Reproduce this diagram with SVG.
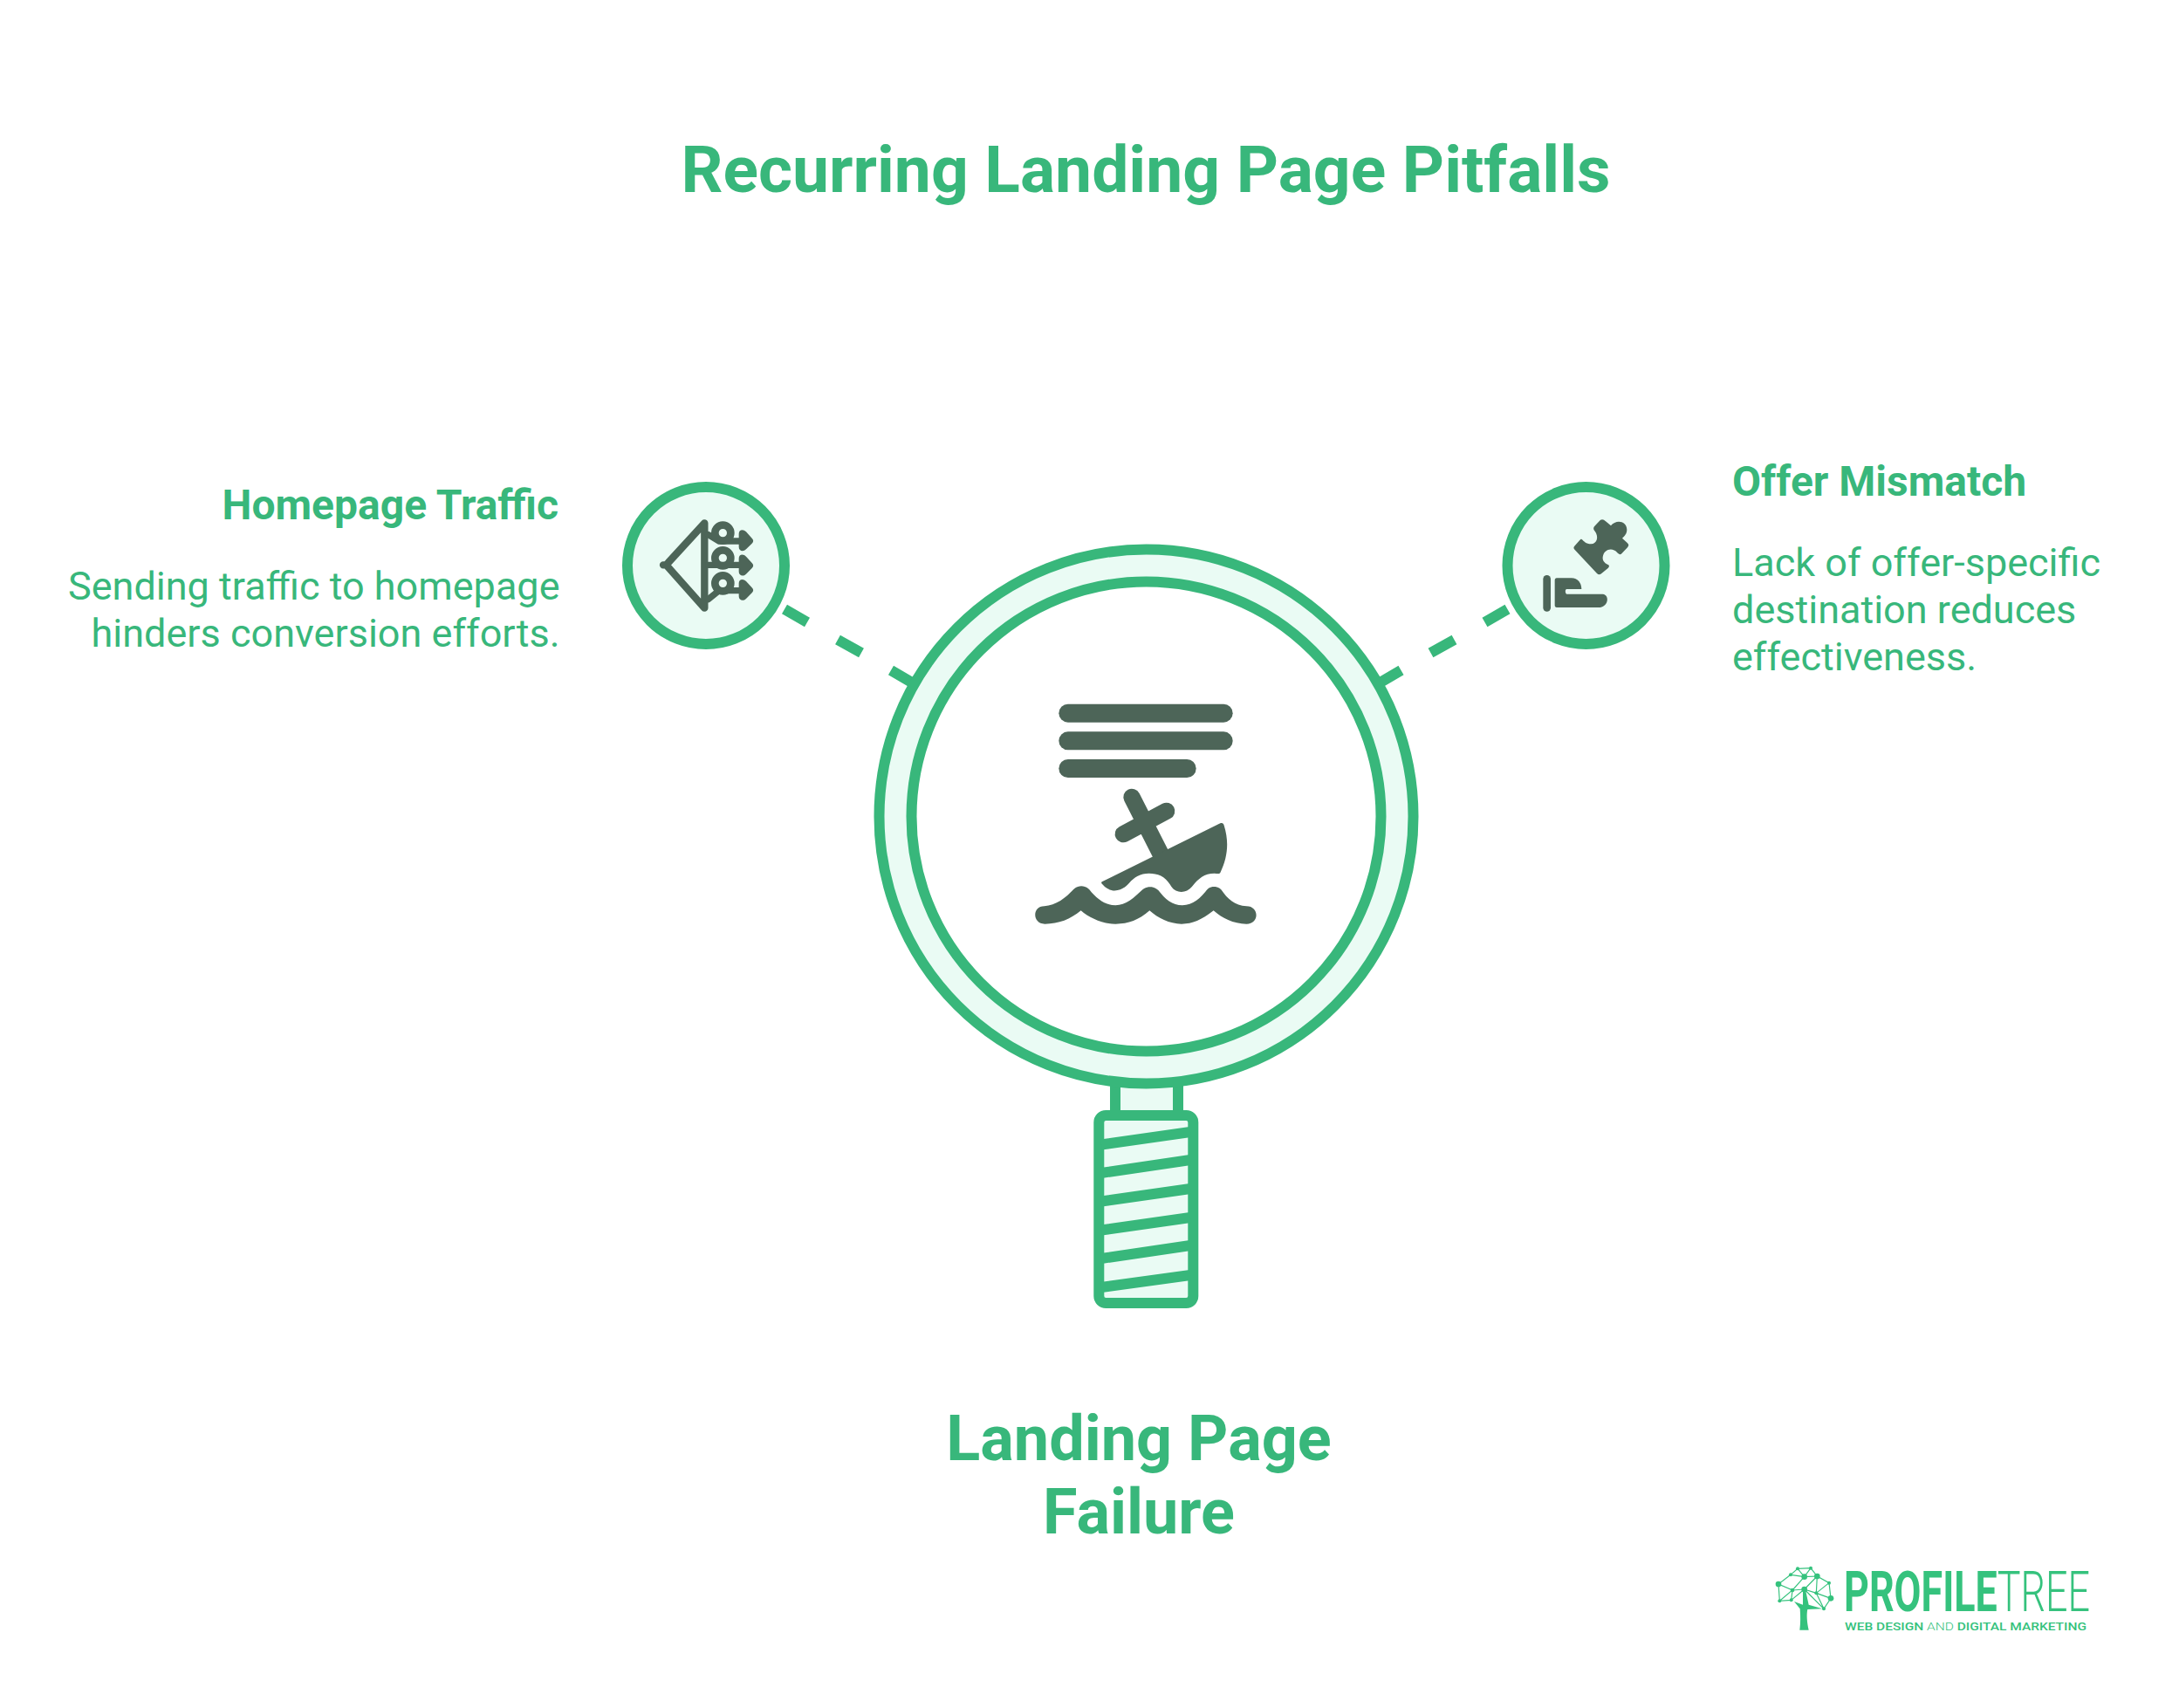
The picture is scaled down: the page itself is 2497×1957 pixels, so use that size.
<svg xmlns="http://www.w3.org/2000/svg" width="2497" height="1957" viewBox="0 0 2497 1957">
<style>
.t{font-family:Roboto,"Liberation Sans",sans-serif;fill:#38B77B}
.h{font-weight:700}
.ring{stroke:#38B77B;stroke-width:12;fill:#EAFBF4}
.dark{fill:#4D6558}
.ln{fill:none;stroke:#4D6558;stroke-linecap:round;stroke-linejoin:round}
.lg{fill:#35C27D}
.lgl{stroke:#35C27D;stroke-width:3.5;fill:none}
.lt{font-family:Roboto,"Liberation Sans",sans-serif;fill:#35C27D}
</style>
<rect width="2497" height="1957" fill="#FFFFFF"/>
<text id="title" class="t h" x="1313" y="220" font-size="75" text-anchor="middle">Recurring Landing Page Pitfalls</text>
<g id="connectors" stroke="#38B77B" stroke-width="12" fill="none">
<path d="M899 698L925 713M960 733L987 748M1021 768L1050 785"/>
<path d="M1727.5 698L1701.5 713M1666.5 733L1639.5 748M1605.5 768L1576.5 785"/>
</g>
<g id="magnifier">
<path class="ring" d="M1278 1220H1350V1278H1278Z"/>
<rect class="ring" x="1259.3" y="1278" width="108" height="215" rx="8"/>
<path d="M1262 1311.5L1364 1297M1262 1344L1364 1329M1262 1376.5L1364 1362M1262 1409.5L1364 1395M1262 1442L1364 1427M1262 1475L1364 1461" stroke="#38B77B" stroke-width="12" fill="none"/>
<circle class="ring" cx="1313.5" cy="935.5" r="306"/>
<circle cx="1313.5" cy="935.5" r="269" fill="#FFFFFF" stroke="#38B77B" stroke-width="12"/>
<g transform="translate(1150 780) scale(.33333)">
<rect class="dark" x="190" y="80" width="598" height="63" rx="31.5"/>
<rect class="dark" x="190" y="175" width="598" height="63" rx="31.5"/>
<rect class="dark" x="190" y="270" width="472" height="63" rx="31.5"/>
<path class="ln" stroke-width="58" d="M441 400L545 605M412 527L560 448"/>
<path class="dark" d="M340 690L745 490C752 487 756 490 758 497C775 550 772 605 745 660C742 665 735 662 725 662C690 662 670 680 650 705C630 732 590 735 572 700C555 672 530 662 500 662C470 662 450 675 432 695C410 722 370 735 340 700C335 695 335 692 340 690Z"/>
<path class="dark" d="M140 775C180 773 215 745 240 718C255 702 280 702 295 718C320 750 350 772 385 772C420 772 450 745 478 718C492 705 518 705 532 720C555 750 580 772 615 772C650 772 680 745 700 718C712 705 735 705 748 718C770 750 795 773 835 775C880 775 880 836 835 836C790 836 750 815 722 790C680 822 650 836 612 836C570 836 530 815 502 790C465 822 430 836 385 836C340 836 295 815 266 790C230 820 190 836 142 836C98 836 98 775 140 775Z"/>
</g>
</g>
<g id="homepage-node">
<circle class="ring" cx="809" cy="648" r="90"/>
<g transform="translate(700 540) scale(.33333)">
<path class="ln" stroke-width="25" d="M180 322H190L322 178V470L190 322"/>
<path class="ln" stroke-width="22" d="M335 218L372 240H460M335 322H460M335 440L372 410H460"/>
<path class="dark" d="M440 215C440 200 455 198 465 208L485 230C491 236 491 242 485 248L465 268C455 278 440 274 440 260ZM440 300C440 285 455 283 465 293L485 315C491 321 491 327 485 333L465 353C455 363 440 359 440 345ZM440 385C440 370 455 368 465 378L485 400C491 406 491 412 485 418L465 438C455 448 440 444 440 430Z"/>
<g fill="none" stroke="#4D6558" stroke-width="26">
<circle cx="385" cy="212" r="27"/>
<circle cx="385" cy="298" r="27"/>
<circle cx="385" cy="385" r="27"/>
</g>
</g>
<text class="t h" x="640" y="595" font-size="48" text-anchor="end">Homepage Traffic</text>
<text class="t" x="641.5" y="687" font-size="45" text-anchor="end">Sending traffic to homepage</text>
<text class="t" x="641.5" y="741" font-size="45" text-anchor="end">hinders conversion efforts.</text>
</g>
<g id="offer-node">
<circle class="ring" cx="1817.5" cy="648" r="90"/>
<g transform="translate(1710 540) scale(.33333)" class="dark">
<rect x="175" y="357" width="26" height="125" rx="13"/>
<path d="M222 367L272 367C295 367 307 385 307 405L256 405C250 405 250 420 256 422L380 422C405 425 400 468 365 468L222 468Q215 468 215 460L215 375Q215 367 222 367Z"/>
<path d="M308 234C315 240 322 250 340 250C360 250 368 225 352 205C345 195 350 190 355 185L372 167C378 164 384 165 390 172L408 187C425 165 462 170 463 200C463 215 455 222 447 230L465 247C470 252 470 256 465 262L445 283C440 288 435 285 430 280C415 262 385 265 380 295C378 310 390 318 400 322C403 326 402 330 398 333L375 352C370 356 365 356 360 351L284 270C279 265 279 261 284 256L300 238C303 234 305 232 308 234Z"/>
</g>
<text class="t h" x="1985" y="568" font-size="48">Offer Mismatch</text>
<text class="t" x="1985" y="660" font-size="45">Lack of offer-specific</text>
<text class="t" x="1985" y="714" font-size="45">destination reduces</text>
<text class="t" x="1985" y="768" font-size="45">effectiveness.</text>
</g>
<g id="center-label">
<text class="t h" x="1305" y="1673" font-size="72" text-anchor="middle">Landing Page</text>
<text class="t h" x="1305" y="1757" font-size="72" text-anchor="middle">Failure</text>
</g>
<g id="logo">
<g transform="translate(2030 1780) scale(.33333)">
<path class="lgl" d="M90 52L135 50L157 78L198 101L204 154L180 190L154 136L113 123L72 126L24 105L66 73L90 52L113 80L135 50M66 73L113 80L157 78L154 136L198 101M24 105L72 126L28 163L68 160L72 126L113 80M24 105L28 163M113 123L68 160M154 136L204 154M113 123L180 190M157 78L113 123"/>
<g class="lg">
<circle cx="90" cy="52" r="6"/><circle cx="135" cy="50" r="6"/><circle cx="66" cy="73" r="6"/><circle cx="113" cy="80" r="10"/><circle cx="157" cy="78" r="10"/><circle cx="198" cy="101" r="6"/><circle cx="24" cy="105" r="10"/><circle cx="72" cy="126" r="7"/><circle cx="113" cy="123" r="10"/><circle cx="154" cy="136" r="6"/><circle cx="204" cy="154" r="10"/><circle cx="28" cy="163" r="6"/><circle cx="68" cy="160" r="6"/><circle cx="180" cy="190" r="6"/>
<path d="M97 263L128 263C122 235 120 210 124 192L175 190L128 176L118 130L108 130L108 176L78 165L98 190C100 215 100 240 97 263Z"/>
</g>
</g>
<text class="lt" x="2113" y="1846" font-size="64" font-weight="700" textLength="282" lengthAdjust="spacingAndGlyphs">PROFILE<tspan font-weight="300">TREE</tspan></text>
<text class="lt" x="2114" y="1868" font-size="13.5" font-weight="500" textLength="277" lengthAdjust="spacingAndGlyphs">WEB DESIGN <tspan font-weight="300">AND</tspan> DIGITAL MARKETING</text>
</g>
</svg>
